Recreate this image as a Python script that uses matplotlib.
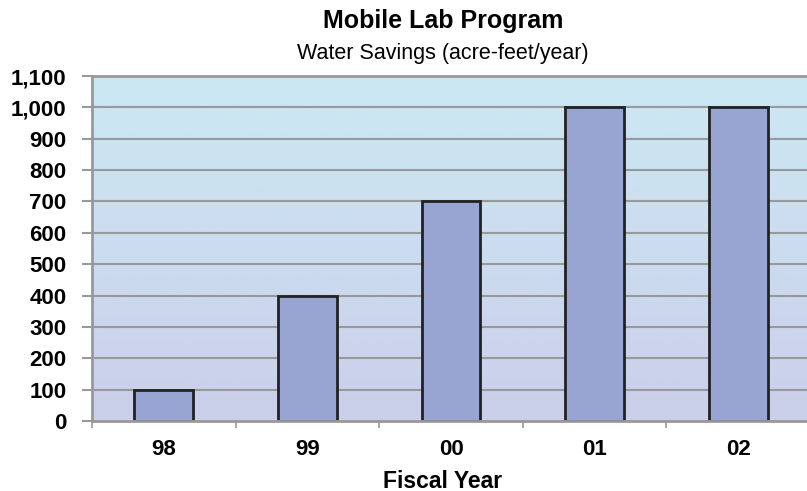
import matplotlib.pyplot as plt
import numpy as np
from matplotlib.colors import LinearSegmentedColormap
from matplotlib.ticker import FuncFormatter

years = ['98', '99', '00', '01', '02']
savings = [100, 400, 700, 1000, 1000]
yticks = list(range(0, 1101, 100))

plt.rcParams['font.family'] = ['Liberation Sans', 'DejaVu Sans']

fig = plt.figure(figsize=(8.07, 4.91), dpi=100)
ax = fig.add_axes([92/807, 70/491, 718/807, 345/491])

x = np.arange(len(years))
ax.set_xlim(-0.5, 4.5)
ax.set_ylim(0, 1100)

# gradient background
cmap = LinearSegmentedColormap.from_list('bg', ['#cbcfea', '#cbe9f3'])
grad = np.linspace(0, 1, 256).reshape(-1, 1)
ax.imshow(grad, extent=[-0.5, 4.5, 0, 1100], origin='lower', aspect='auto',
          cmap=cmap, zorder=0)

for y in yticks[1:-1]:
    ax.axhline(y, color='#999999', lw=1.5, zorder=1)

ax.bar(x, savings, width=0.41, color='#98a5d3', edgecolor='#222222', lw=2, zorder=2)

ax.set_yticks(yticks)
ax.yaxis.set_major_formatter(FuncFormatter(lambda v, p: f'{int(v):,}'))
ax.tick_params(axis='y', length=7.5, width=1.5, color='#999999', pad=11, labelsize=16)
ax.set_xticks(x)
ax.set_xticklabels(years, fontweight='bold', fontsize=16)
ax.set_xticks(np.arange(-0.5, 4.6, 1), minor=True)
ax.tick_params(axis='x', which='major', length=0, pad=13)
ax.tick_params(axis='x', which='minor', length=5, width=1.2, color='#999999')
for lab in ax.get_yticklabels():
    lab.set_fontweight('bold')

for s in ['left', 'top', 'bottom', 'right']:
    ax.spines[s].set_color('#999999')
    ax.spines[s].set_linewidth(2)

fig.text(443/807, 1 - 481/491, 'Fiscal Year', ha='center', va='center',
         fontsize=16.5, fontweight='bold')

fig.text(443/807, 1 - 21/491, 'Mobile Lab Program', ha='center', va='center',
         fontsize=18, fontweight='bold')
fig.text(443/807, 1 - 53/491, 'Water Savings (acre-feet/year)', ha='center',
         va='center', fontsize=15.5)

fig.savefig('out.png', dpi=100)
